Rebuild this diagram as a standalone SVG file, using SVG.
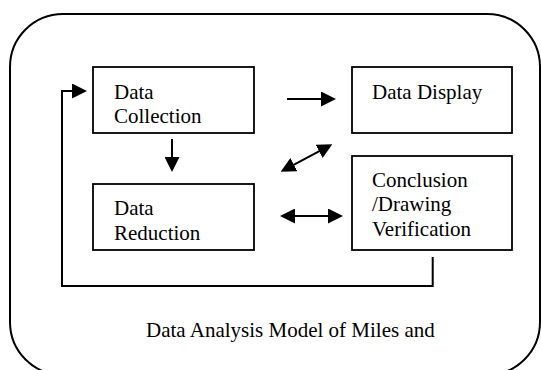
<svg xmlns="http://www.w3.org/2000/svg" width="541" height="370" viewBox="0 0 541 370">
  <style>
    .box { fill: #ffffff; stroke: #000000; stroke-width: 1.8; }
    .frame { fill: #ffffff; stroke: #000000; stroke-width: 2; }
    .conn { fill: none; stroke: #000000; stroke-width: 2; }
    .lbl { font-family: "Liberation Serif", "Times New Roman", serif; font-size: 21px; fill: #000000; }
  </style>
  <defs>
    <marker id="ah" viewBox="0 0 15 15" markerWidth="15" markerHeight="15" markerUnits="userSpaceOnUse" refX="12" refY="7.5" orient="auto-start-reverse">
      <path d="M0,0 L15,7.5 L0,15 z" fill="#000000"/>
    </marker>
  </defs>
  <rect id="frame" class="frame" x="10" y="14" width="530" height="361" rx="53" ry="53"/>
  <g id="data-collection">
    <rect class="box" x="93" y="67" width="161" height="66"/>
    <text class="lbl" x="114" y="99">Data</text>
    <text class="lbl" x="114" y="123">Collection</text>
  </g>
  <g id="data-display">
    <rect class="box" x="352" y="67" width="160" height="66"/>
    <text class="lbl" x="372" y="99">Data Display</text>
  </g>
  <g id="data-reduction">
    <rect class="box" x="93" y="184" width="161" height="66"/>
    <text class="lbl" x="114" y="215">Data</text>
    <text class="lbl" x="114" y="240">Reduction</text>
  </g>
  <g id="conclusion">
    <rect class="box" x="352" y="156" width="160" height="94"/>
    <text class="lbl" x="372" y="186.5">Conclusion</text>
    <text class="lbl" x="372" y="211">/Drawing</text>
    <text class="lbl" x="372" y="235.5">Verification</text>
  </g>
  <g id="connectors">
    <path class="conn" d="M432.7,257 V286 H62 V91 H84" marker-end="url(#ah)"/>
    <path class="conn" d="M172,139 V169" marker-end="url(#ah)"/>
    <path class="conn" d="M287,99 H333" marker-end="url(#ah)"/>
    <path class="conn" d="M283.3,170.3 L329.7,145.7" marker-start="url(#ah)" marker-end="url(#ah)"/>
    <path class="conn" d="M283,216 H340" marker-start="url(#ah)" marker-end="url(#ah)"/>
  </g>
  <text id="caption" class="lbl" x="146" y="337">Data Analysis Model of Miles and</text>
</svg>
